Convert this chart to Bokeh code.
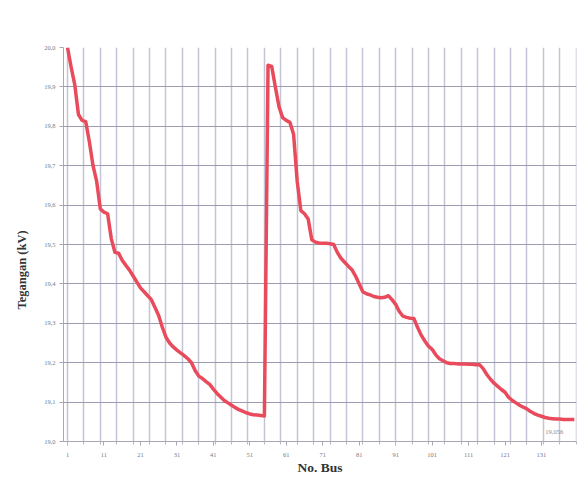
import numpy as np
from bokeh.plotting import figure
from bokeh.models import FixedTicker, CustomJSTickFormatter, ColumnDataSource, Title
from bokeh.core.properties import value
from bokeh.embed import file_html
from bokeh.resources import INLINE

# Bus numbers 1..140
bus = list(range(1, 141))

# Voltage (kV), bus 1..140
voltage = [
    20.000, 19.950, 19.905, 19.830, 19.815, 19.812, 19.760, 19.700, 19.660, 19.590,
    19.582, 19.578, 19.515, 19.480, 19.478, 19.460, 19.447, 19.435, 19.420, 19.405,
    19.390, 19.380, 19.370, 19.360, 19.340, 19.320, 19.290, 19.265, 19.250, 19.240,
    19.232, 19.225, 19.218, 19.210, 19.200, 19.180, 19.166, 19.160, 19.152, 19.145,
    19.133, 19.122, 19.113, 19.104, 19.098, 19.092, 19.086, 19.081, 19.077, 19.073,
    19.070, 19.068, 19.067, 19.066, 19.065, 19.955, 19.952, 19.900, 19.850, 19.822,
    19.815, 19.810, 19.780, 19.660, 19.586, 19.578, 19.565, 19.512, 19.506, 19.504,
    19.503, 19.503, 19.502, 19.500, 19.480, 19.465, 19.455, 19.445, 19.436, 19.420,
    19.400, 19.380, 19.375, 19.372, 19.368, 19.366, 19.365, 19.366, 19.370, 19.360,
    19.348, 19.330, 19.318, 19.315, 19.313, 19.312, 19.290, 19.270, 19.255, 19.242,
    19.234, 19.220, 19.210, 19.205, 19.200, 19.198, 19.198, 19.197, 19.197, 19.197,
    19.196, 19.196, 19.195, 19.195, 19.185, 19.170, 19.158, 19.148, 19.140, 19.132,
    19.125, 19.112, 19.104, 19.098, 19.092, 19.087, 19.083, 19.076, 19.071, 19.067,
    19.064, 19.061, 19.059, 19.058, 19.057, 19.057, 19.056, 19.056, 19.056, 19.056,
]

x_labels = list(range(1, 132, 10))
y_ticks = [round(19.0 + 0.1 * i, 1) for i in range(11)]
y_title = "Tegangan (kV)"
x_title = "No. Bus"

p = figure(width=581, height=495, output_backend="svg", toolbar_location=None,
           x_range=(-0.1, 140.6), y_range=(19.0, 20.0),
           min_border_left=63, min_border_right=5, min_border_top=47, min_border_bottom=54)
p.outline_line_color = None
p.background_fill_color = "white"
p.border_fill_color = "white"

src = ColumnDataSource(dict(bus=bus, v=voltage))
p.line("bus", "v", source=src, line_color="#e94b5c", line_width=3.5, line_join="round")

# data label at the last bus
last = ColumnDataSource(dict(x=[bus[-1]], y=[voltage[-1]],
                             t=[f"{voltage[-1]:.3f}".replace(".", ",")]))
p.text("x", "y", text="t", source=last, text_font=value("Liberation Serif"),
       text_font_size="6.5px", text_color="#8a8a9a", text_align="center",
       text_baseline="middle", x_offset=-20, y_offset=13)

# axes
grid_pos = list(np.arange(1, 141, 4.5))
p.xaxis.ticker = FixedTicker(ticks=x_labels, minor_ticks=grid_pos)
p.yaxis.ticker = FixedTicker(ticks=y_ticks)
p.yaxis.formatter = CustomJSTickFormatter(code="return tick.toFixed(1).replace('.', ',');")

for ax in (p.xaxis[0], p.yaxis[0]):
    ax.major_label_text_font = "Liberation Serif"
    ax.major_label_text_font_size = "6.5px"
    ax.major_label_text_color = "#7a7a86"
    ax.axis_line_color = "#a8a8b4"
    ax.major_tick_line_color = "#a8a8b4"
    ax.minor_tick_line_color = "#b8b8c4"
    ax.axis_label_text_font = "Liberation Serif"
    ax.axis_label_text_font_style = "bold"
    ax.axis_label_text_color = "#333333"

p.xaxis.axis_label = x_title
p.xaxis.axis_label_text_font_size = "13.5px"
p.xaxis.major_tick_in = 0
p.xaxis.major_tick_out = 4
p.xaxis.minor_tick_in = 0
p.xaxis.minor_tick_out = 3
p.xaxis.major_label_standoff = 7
p.xaxis.axis_label_standoff = 0

p.yaxis.major_tick_in = 0
p.yaxis.major_tick_out = 4
p.yaxis.minor_tick_line_color = None
p.yaxis.major_label_standoff = 4

# y-axis title as a side title, set a little below the middle as in the original
p.add_layout(Title(text=y_title, align="left", offset=132, standoff=25,
                   text_font="Liberation Serif", text_font_style="bold",
                   text_font_size="12.5px", text_color="#333333"), "left")

# grid
p.ygrid.ticker = FixedTicker(ticks=y_ticks)
p.ygrid.grid_line_color = "#9c9cb0"
p.ygrid.grid_line_width = 1
p.xgrid.ticker = FixedTicker(ticks=grid_pos)
p.xgrid.grid_line_color = "#c4c4d6"
p.xgrid.grid_line_width = 1.5

open("out.html", "w").write(file_html(p, INLINE))
